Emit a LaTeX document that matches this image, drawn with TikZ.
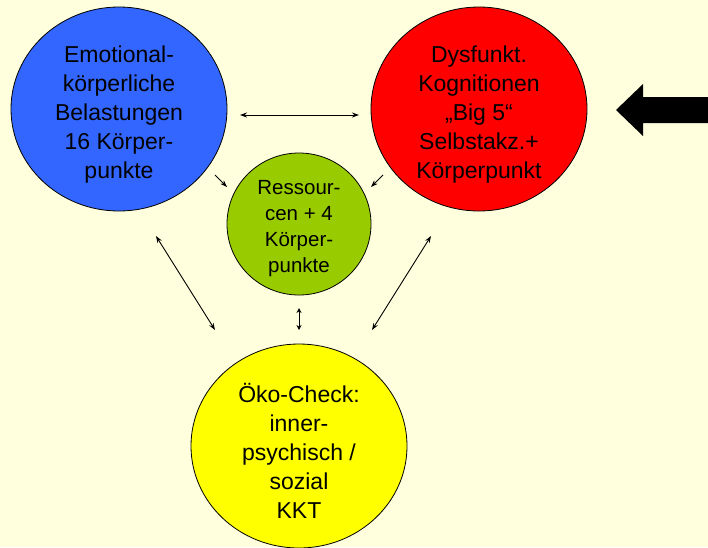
\documentclass[tikz,border=0pt]{standalone}
\usepackage{fontspec}
\setmainfont{Liberation Sans}
\usetikzlibrary{shapes.geometric,arrows.meta}
\definecolor{bgc}{RGB}{255,255,221}
\definecolor{blueC}{RGB}{51,102,255}
\definecolor{redC}{RGB}{255,0,0}
\definecolor{greenC}{RGB}{153,204,0}
\definecolor{yellowC}{RGB}{255,255,0}
\tikzset{
  bubble/.style={ellipse, draw=black, line width=0.8pt, inner sep=0pt},
  bigbubble/.style={bubble, minimum width=216pt, minimum height=204pt},
  txt/.style={align=center, font=\fontsize{23}{29}\selectfont},
  smalltxt/.style={align=center, font=\fontsize{20.5}{26}\selectfont},
  link/.style={line width=0.9pt, {Stealth[length=7pt,width=5pt]}-{Stealth[length=7pt,width=5pt]}},
  onelink/.style={line width=0.9pt, -{Stealth[length=7pt,width=5pt]}}
}
\begin{document}
\begin{tikzpicture}[x=1pt,y=1pt]
\fill[bgc] (0,0) rectangle (708,-547);
\useasboundingbox (0,0) rectangle (708,-547);

\node[bigbubble, fill=blueC] (emo) at (119,-109) {};
\node[txt] (emotxt) at (119,-115) {Emotional-\\körperliche\\Belastungen\\16 Körper-\\punkte};

\node[bigbubble, fill=redC] (dys) at (479,-109) {};
\node[txt] (dystxt) at (479,-115) {Dysfunkt.\\Kognitionen\\„Big 5“\\Selbstakz.+\\Körperpunkt};

\node[bubble, fill=greenC, minimum width=144pt, minimum height=142pt] (res) at (299,-224) {};
\node[smalltxt] (restxt) at (299,-229) {Ressour-\\cen + 4\\Körper-\\punkte};

\node[bigbubble, fill=yellowC] (oeko) at (299,-446) {};
\node[txt] (oekotxt) at (299,-451) {Öko-Check:\\inner-\\psychisch /\\sozial\\KKT};

% arrow end points
\coordinate (a1) at (240,-115);
\coordinate (a2) at (359,-115);
\coordinate (b1) at (215,-175);
\coordinate (b2) at (227,-187);
\coordinate (c1) at (383,-175);
\coordinate (c2) at (371,-187);
\coordinate (d1) at (156,-236);
\coordinate (d2) at (215,-330);
\coordinate (e1) at (299,-308);
\coordinate (e2) at (299,-330);
\coordinate (f1) at (431,-236);
\coordinate (f2) at (372,-330);

\draw[link] (a1) -- (a2);
\draw[onelink] (b1) -- (b2);
\draw[onelink] (c1) -- (c2);
\draw[link] (d1) -- (d2);
\draw[line width=0.9pt, {Stealth[length=5pt,width=5pt]}-{Stealth[length=5pt,width=5pt]}] (e1) -- (e2);
\draw[link] (f1) -- (f2);

% big black arrow
\fill[black] (708,-97) -- (643,-97) -- (643,-84) -- (616,-110) -- (643,-136) -- (643,-123) -- (708,-123) -- cycle;
\end{tikzpicture}
\end{document}
